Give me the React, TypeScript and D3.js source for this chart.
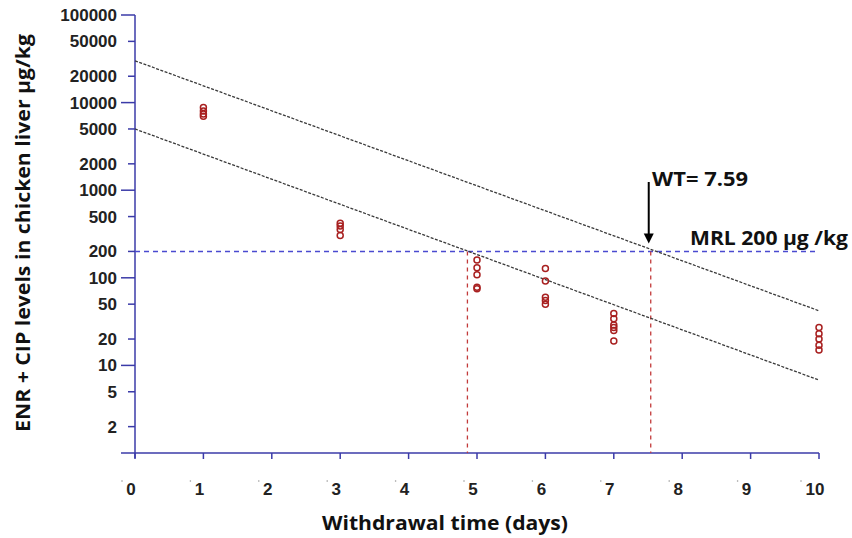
import React, { useRef, useEffect } from "react";
import * as d3 from "d3";

// measured concentrations (µg/kg) per sampling day
const day1 = [8800, 8000, 7400, 7000];
const day3 = [420, 390, 355, 305];
const day5 = [160, 130, 108, 78, 75];
const day6 = [128, 92, 60, 55, 50];
const day7 = [39, 34, 29, 27, 25, 19];
const day10 = [27, 23, 20, 17, 15];
const sampleDays = [1, 3, 5, 6, 7, 10];
const samples = [day1, day3, day5, day6, day7, day10];

// regression / tolerance limit lines (day, value)
const upperLine = [
  [0, 30000],
  [10, 42],
];
const lowerLine = [
  [0, 5000],
  [10, 6.8],
];

const mrl = 200;
const wtDay = 7.54; // where the upper line meets the MRL
const lowDay = 4.86; // where the lower line meets the MRL

const xTicks = [0, 1, 2, 3, 4, 5, 6, 7, 8, 9, 10];
const yMajor = [100000, 10000, 1000, 100, 10];
const yMinor = [50000, 20000, 5000, 2000, 500, 200, 50, 20, 5, 2];
const yLabels = ["100000", "50000", "20000", "10000", "5000", "2000", "1000", "500", "200", "100", "50", "20", "10", "5", "2"];
const yLabelValues = [100000, 50000, 20000, 10000, 5000, 2000, 1000, 500, 200, 100, 50, 20, 10, 5, 2];

const App = () => {
  const svgRef = useRef<SVGSVGElement>(null);

  useEffect(() => {
    const width = 852;
    const height = 538;
    const axisColor = "#3b3ba8";
    const tickFont = "'Liberation Sans', Arial, sans-serif";
    const titleFont = "'Open Sans', 'Noto Sans', sans-serif";

    const svg = d3.select(svgRef.current).attr("width", width).attr("height", height);
    svg.selectAll("*").remove();

    const x = d3.scaleLinear().domain([0, 10]).range([135, 819]);
    const y = d3.scaleLog().domain([1, 100000]).range([453, 15]);

    svg.append("rect").attr("width", width).attr("height", height).attr("fill", "#fff");

    // axes
    svg
      .append("line")
      .attr("x1", x(0))
      .attr("x2", x(0))
      .attr("y1", y(100000))
      .attr("y2", y(1) + 5)
      .attr("stroke", axisColor)
      .attr("stroke-width", 1.5);
    svg
      .append("line")
      .attr("x1", x(0) - 14)
      .attr("x2", x(10))
      .attr("y1", y(1))
      .attr("y2", y(1))
      .attr("stroke", axisColor)
      .attr("stroke-width", 1.5);

    svg
      .selectAll(".ymaj")
      .data(yMajor)
      .enter()
      .append("line")
      .attr("x1", x(0) - 14)
      .attr("x2", x(0))
      .attr("y1", (d) => y(d))
      .attr("y2", (d) => y(d))
      .attr("stroke", axisColor)
      .attr("stroke-width", 1.5);
    svg
      .selectAll(".ymin")
      .data(yMinor)
      .enter()
      .append("line")
      .attr("x1", x(0) - 7)
      .attr("x2", x(0))
      .attr("y1", (d) => y(d))
      .attr("y2", (d) => y(d))
      .attr("stroke", axisColor)
      .attr("stroke-width", 1.5);

    svg
      .selectAll(".ylab")
      .data(yLabelValues)
      .enter()
      .append("text")
      .attr("x", 117)
      .attr("y", (d) => y(d) + 6)
      .attr("text-anchor", "end")
      .attr("font-family", tickFont)
      .attr("font-weight", "bold")
      .attr("font-size", 17)
      .attr("fill", "#222")
      .text((_, i) => yLabels[i]);

    svg
      .selectAll(".xtick")
      .data(xTicks)
      .enter()
      .append("line")
      .attr("x1", (d) => x(d))
      .attr("x2", (d) => x(d))
      .attr("y1", y(1))
      .attr("y2", y(1) + 6)
      .attr("stroke", axisColor)
      .attr("stroke-width", 1.5);

    svg
      .selectAll(".xlab")
      .data(xTicks)
      .enter()
      .append("text")
      .attr("x", (d) => x(d) - 4)
      .attr("y", 495)
      .attr("text-anchor", "middle")
      .attr("font-family", tickFont)
      .attr("font-weight", "bold")
      .attr("font-size", 17)
      .attr("fill", "#222")
      .text((d) => String(d));

    svg
      .selectAll(".xdot")
      .data(xTicks)
      .enter()
      .append("circle")
      .attr("cx", (d) => x(d) - (d === 10 ? 18 : 13))
      .attr("cy", 481)
      .attr("r", 0.8)
      .attr("fill", "#999");

    // MRL horizontal line
    svg
      .append("line")
      .attr("x1", x(0))
      .attr("x2", x(10))
      .attr("y1", y(mrl))
      .attr("y2", y(mrl))
      .attr("stroke", "#4a4ad0")
      .attr("stroke-width", 1.5)
      .attr("stroke-dasharray", "5,4");

    // vertical drop lines
    svg
      .selectAll(".drop")
      .data([lowDay, wtDay])
      .enter()
      .append("line")
      .attr("x1", (d) => x(d))
      .attr("x2", (d) => x(d))
      .attr("y1", y(mrl))
      .attr("y2", y(1))
      .attr("stroke", "#c23a3a")
      .attr("stroke-width", 1.3)
      .attr("stroke-dasharray", "4,4");

    // regression lines
    const line = d3
      .line<number[]>()
      .x((d) => x(d[0]))
      .y((d) => y(d[1]));
    [upperLine, lowerLine].forEach((pts) => {
      svg
        .append("path")
        .attr("d", line(pts))
        .attr("fill", "none")
        .attr("stroke", "#3a3a3a")
        .attr("stroke-width", 1.3)
        .attr("stroke-dasharray", "3,1.5");
    });

    // data points
    samples.forEach((vals, i) => {
      svg
        .selectAll(`.pt${i}`)
        .data(vals)
        .enter()
        .append("circle")
        .attr("cx", x(sampleDays[i]))
        .attr("cy", (d) => y(d))
        .attr("r", 3)
        .attr("fill", "none")
        .attr("stroke", "#a82020")
        .attr("stroke-width", 1.5);
    });

    // arrow to WT
    const ax = x(wtDay) - 2;
    svg
      .append("line")
      .attr("x1", ax)
      .attr("x2", ax)
      .attr("y1", 182)
      .attr("y2", y(mrl) - 16)
      .attr("stroke", "#000")
      .attr("stroke-width", 2);
    svg
      .append("path")
      .attr("d", `M${ax - 5},${y(mrl) - 18} L${ax + 5},${y(mrl) - 18} L${ax},${y(mrl) - 8} Z`)
      .attr("fill", "#000");

    svg
      .append("text")
      .attr("x", 652)
      .attr("y", 186)
      .attr("font-family", titleFont)
      .attr("font-weight", 700)
      .attr("font-size", 19)
      .attr("textLength", 96)
      .attr("lengthAdjust", "spacingAndGlyphs")
      .attr("fill", "#111")
      .text("WT= 7.59");

    svg
      .append("text")
      .attr("x", 690)
      .attr("y", 245)
      .attr("font-family", titleFont)
      .attr("font-weight", 700)
      .attr("font-size", 19)
      .attr("textLength", 158)
      .attr("lengthAdjust", "spacingAndGlyphs")
      .attr("fill", "#111")
      .text("MRL 200 µg /kg");

    // axis titles
    svg
      .append("text")
      .attr("x", 322)
      .attr("y", 530)
      .attr("font-family", titleFont)
      .attr("font-weight", 700)
      .attr("font-size", 19)
      .attr("textLength", 246)
      .attr("lengthAdjust", "spacingAndGlyphs")
      .attr("fill", "#111")
      .text("Withdrawal time (days)");

    svg
      .append("text")
      .attr("transform", "translate(30,432) rotate(-90)")
      .attr("font-family", titleFont)
      .attr("font-weight", 700)
      .attr("font-size", 19)
      .attr("textLength", 398)
      .attr("lengthAdjust", "spacingAndGlyphs")
      .attr("fill", "#111")
      .text("ENR + CIP levels in chicken liver µg/kg");
  }, []);

  return <svg ref={svgRef} style={{ position: "absolute", left: 0, top: 0 }}></svg>;
};

export default App;
